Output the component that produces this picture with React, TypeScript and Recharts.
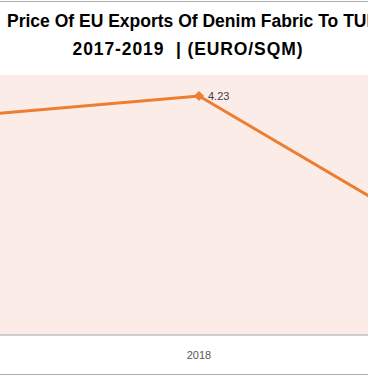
import React from 'react';
import { LineChart, Line, XAxis, YAxis, CartesianGrid, LabelList } from 'recharts';

const years = ['2017', '2018', '2019'];
const prices = [3.83, 4.23, 1.52];
const titleLine1 = 'Price Of EU Exports Of Denim Fabric To TURKEY';
const titleLine2 = '2017-2019  | (EURO/SQM)';

const data = years.map((y, i) => ({ year: y, price: prices[i] }));

const ORANGE = '#ED7D31';

const Diamond = (props: any) => {
  const { cx, cy, index } = props;
  if (cx == null || cy == null) return <g key={`d-${index}`} />;
  const r = 4.5;
  return (
    <path
      key={`d-${index}`}
      d={`M${cx},${cy - r}L${cx + r},${cy}L${cx},${cy + r}L${cx - r},${cy}Z`}
      fill={ORANGE}
      stroke={ORANGE}
    />
  );
};

const titleStyle: React.CSSProperties = {
  position: 'absolute',
  fontFamily: '"Liberation Sans", Arial, sans-serif',
  fontWeight: 700,
  fontSize: 17.5,
  lineHeight: '20px',
  color: '#000',
  whiteSpace: 'pre',
};

export default function App() {
  return (
    <div
      style={{
        position: 'fixed',
        left: 0,
        top: 0,
        width: 368,
        height: 376,
        overflow: 'hidden',
        background: '#fff',
      }}
    >
      <div
        style={{
          position: 'absolute',
          left: -101,
          top: 1,
          width: 571,
          height: 372,
          border: '1px solid #ABABAB',
          background: '#fff',
        }}
      >
        <LineChart
          width={571}
          height={372}
          data={data}
          margin={{ top: 73, right: 12, bottom: 9, left: 39 }}
        >
          <CartesianGrid fill="#FBECE8" stroke="none" horizontal={false} vertical={false} />
          <XAxis
            dataKey="year"
            axisLine={{ stroke: '#BFBFBF', strokeWidth: 1.5 }}
            tickLine={false}
            tickMargin={10}
            height={30}
            tick={{ fill: '#595959', fontSize: 11, fontFamily: '"Liberation Sans", Arial, sans-serif' }}
          />
          <YAxis hide domain={[0, 4.6]} />
          <Line
            type="linear"
            dataKey="price"
            stroke={ORANGE}
            strokeWidth={3}
            dot={Diamond}
            activeDot={false}
            isAnimationActive={false}
          >
            <LabelList
              dataKey="price"
              position="right"
              offset={9}
              fill="#404040"
              fontSize={11}
              fontFamily='"Liberation Sans", Arial, sans-serif'
            />
          </Line>
        </LineChart>
      </div>
      <div style={{ ...titleStyle, left: 7, top: 11 }}>{titleLine1}</div>
      <div style={{ ...titleStyle, left: 0, width: 376, top: 39, textAlign: 'center', letterSpacing: 0.9 }}>
        {titleLine2}
      </div>
    </div>
  );
}
